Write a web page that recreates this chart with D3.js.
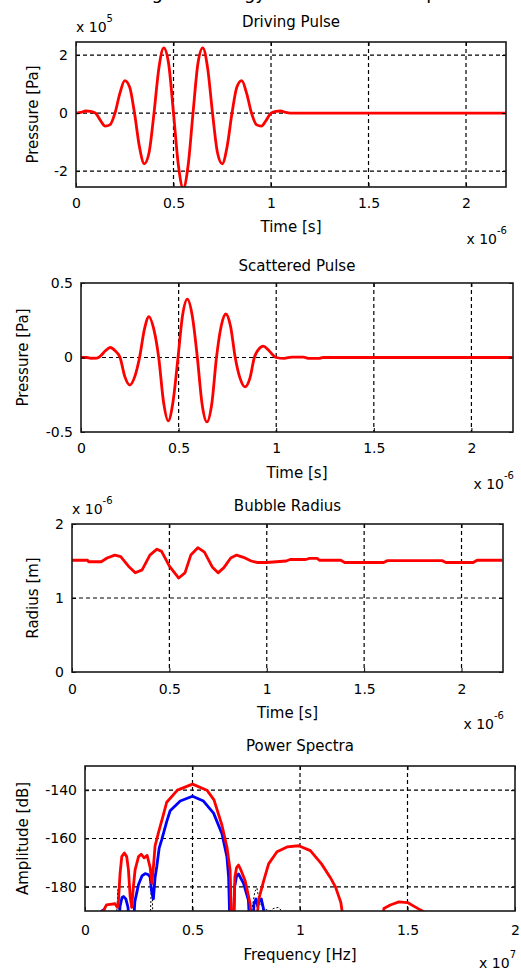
<!DOCTYPE html>
<html>
<head>
<meta charset="utf-8">
<script src="https://cdn.jsdelivr.net/npm/d3@7"></script>
<style>
body { margin: 0; background: #fff; }
text { font-family: "DejaVu Sans", sans-serif; fill: #000; }
</style>
</head>
<body>
<div id="container"></div>
<script>
// time in 1e-6 s, pressure in 1e5 Pa
let drivingPulse = [
  [0, 0], [0.025, 0.02], [0.05, 0.07], [0.075, 0.06], [0.1, 0],
  [0.125, -0.25], [0.15, -0.45], [0.175, -0.4], [0.2, 0],
  [0.225, 0.68], [0.25, 1.12], [0.275, 0.9], [0.3, 0],
  [0.325, -1.15], [0.35, -1.75], [0.375, -1.35], [0.4, 0],
  [0.425, 1.55], [0.45, 2.25], [0.475, 1.7], [0.5, 0],
  [0.525, -1.8], [0.55, -2.6], [0.575, -1.8], [0.6, 0],
  [0.625, 1.7], [0.65, 2.25], [0.675, 1.55], [0.7, 0],
  [0.725, -1.35], [0.75, -1.75], [0.775, -1.15], [0.8, 0],
  [0.825, 0.9], [0.85, 1.12], [0.875, 0.68], [0.9, 0],
  [0.925, -0.4], [0.95, -0.45], [0.975, -0.25], [1.0, 0],
  [1.025, 0.06], [1.05, 0.07], [1.075, 0.02], [1.1, 0], [2.21, 0]
]

// time in 1e-6 s, pressure in Pa
let scatteredPulse = [
  [0, 0], [0.03, 0], [0.05, -0.005], [0.08, -0.004], [0.1, 0.01],
  [0.125, 0.045], [0.15, 0.067], [0.175, 0.045], [0.2, 0],
  [0.225, -0.13], [0.25, -0.185], [0.275, -0.13], [0.3, 0],
  [0.325, 0.19], [0.348, 0.275], [0.372, 0.195], [0.398, 0],
  [0.423, -0.3], [0.447, -0.425], [0.471, -0.3], [0.497, 0],
  [0.52, 0.28], [0.545, 0.392], [0.57, 0.28], [0.596, 0],
  [0.62, -0.31], [0.645, -0.432], [0.67, -0.31], [0.694, 0],
  [0.718, 0.21], [0.742, 0.292], [0.766, 0.21], [0.79, 0],
  [0.815, -0.14], [0.84, -0.197], [0.865, -0.14], [0.888, 0],
  [0.91, 0.055], [0.934, 0.076], [0.96, 0.05], [0.99, 0.008],
  [1.0, 0], [1.04, -0.006], [1.08, 0.003], [1.14, 0.002], [1.17, -0.006],
  [1.22, -0.006], [1.24, 0], [2.21, 0]
]

// time in 1e-6 s, radius in 1e-6 m
let bubbleRadius = [
  [0, 1.51], [0.08, 1.51], [0.085, 1.49], [0.15, 1.49], [0.18, 1.54],
  [0.22, 1.58], [0.25, 1.56], [0.29, 1.43], [0.325, 1.34], [0.36, 1.38],
  [0.4, 1.58], [0.436, 1.66], [0.46, 1.63], [0.5, 1.43], [0.548, 1.27],
  [0.58, 1.34], [0.61, 1.58], [0.646, 1.68], [0.68, 1.62], [0.72, 1.42],
  [0.75, 1.34], [0.78, 1.41], [0.815, 1.54], [0.845, 1.58], [0.88, 1.55],
  [0.92, 1.5], [0.95, 1.48], [1.0, 1.48], [1.05, 1.49], [1.1, 1.5],
  [1.12, 1.52], [1.2, 1.52], [1.22, 1.535], [1.26, 1.535], [1.27, 1.51],
  [1.38, 1.51], [1.4, 1.48], [1.6, 1.48], [1.62, 1.505], [1.9, 1.505],
  [1.92, 1.48], [2.06, 1.48], [2.08, 1.51], [2.21, 1.51]
]

// frequency in 1e7 Hz, amplitude in dB
let spectrumRed = [
  [0, -200], [0.075, -200], [0.085, -190], [0.1, -187.5], [0.14, -187],
  [0.15, -188.5], [0.155, -187], [0.163, -174.5], [0.171, -167.5], [0.183, -166],
  [0.194, -167.5], [0.202, -173], [0.21, -184], [0.217, -188.5], [0.225, -180],
  [0.233, -173], [0.249, -167.5], [0.261, -166.5], [0.275, -168], [0.289, -167],
  [0.303, -172], [0.311, -178.5], [0.318, -172], [0.326, -163], [0.342, -157.5],
  [0.365, -150], [0.38, -145], [0.43, -140], [0.5, -137.5], [0.567, -140],
  [0.6, -144], [0.637, -154.5], [0.66, -163.5], [0.675, -173], [0.683, -200],
  [0.69, -200], [0.697, -176], [0.705, -172], [0.714, -171], [0.725, -173],
  [0.745, -177.5], [0.768, -187], [0.778, -200], [0.795, -200], [0.807, -185.5],
  [0.831, -177.5], [0.854, -170.5], [0.893, -165.5], [0.94, -163.5], [0.994, -163],
  [1.048, -165], [1.1, -170.5], [1.14, -176], [1.165, -180], [1.19, -186.5],
  [1.212, -200], [1.375, -200], [1.39, -189], [1.42, -187.5], [1.46, -186.2],
  [1.5, -186.5], [1.545, -188.8], [1.59, -191], [1.62, -200], [2, -200]
]

let spectrumBlue = [
  [0, -200], [0.07, -200], [0.078, -190], [0.088, -189.5], [0.095, -200],
  [0.155, -200], [0.163, -188], [0.172, -184.5], [0.179, -184], [0.19, -185],
  [0.2, -188.5], [0.21, -200], [0.222, -200], [0.232, -186], [0.249, -179],
  [0.265, -175.5], [0.28, -174.5], [0.295, -175], [0.303, -176], [0.31, -182],
  [0.318, -185], [0.326, -176], [0.334, -171.5], [0.345, -164], [0.357, -160.5],
  [0.38, -153], [0.396, -148.5], [0.443, -144.5], [0.5, -142.5], [0.551, -144.5],
  [0.598, -149.5], [0.637, -158], [0.66, -167.5], [0.668, -176], [0.675, -200],
  [0.69, -200], [0.696, -180], [0.705, -175.5], [0.714, -174.7], [0.737, -178.5],
  [0.76, -185.5], [0.768, -200], [0.78, -200], [0.786, -187], [0.795, -185],
  [0.803, -188], [0.81, -186], [0.82, -185], [0.83, -189], [0.838, -200], [2, -200]
]

let spectrumBlack = [
  [0.148, -190], [0.153, -181], [0.158, -190], [0.2, null],
  [0.305, -190], [0.31, -176], [0.315, -190], [0.5, null],
  [0.775, -190], [0.79, -182], [0.8, -180.5], [0.81, -186], [0.83, -189],
  [0.86, -190], [0.875, -189], [0.9, -188.5], [0.915, -190]
]

let timeTicks = [0, 0.5, 1, 1.5, 2]
let freqTicks = [0, 0.5, 1, 1.5, 2]
let drivingTicks = [-2, 0, 2]
let scatteredTicks = [-0.5, 0, 0.5]
let radiusTicks = [0, 1, 2]
let spectrumTicks = [-180, -160, -140]

let svg = d3.select('#container').append('svg')
  .attr('width', 521)
  .attr('height', 969)

// figure title, cut off by the top edge as in the source image
svg.append('text').attr('x', 163).attr('y', -1).attr('text-anchor', 'end').attr('font-size', 18).text('Scattering')
svg.append('text').attr('x', 266).attr('y', -1).attr('text-anchor', 'end').attr('font-size', 18).text('Energy')
svg.append('text').attr('x', 394).attr('y', -1).attr('font-size', 18).text('Response')

function panel(p) {
  let x = d3.scaleLinear().domain(p.xDomain).range([p.left, p.right])
  let y = d3.scaleLinear().domain(p.yDomain).range([p.bottom, p.top])
  let g = svg.append('g')

  svg.append('clipPath').attr('id', 'clip' + p.id)
    .append('rect')
    .attr('x', p.left).attr('y', p.top)
    .attr('width', p.right - p.left).attr('height', p.bottom - p.top)

  // dashed grid
  g.selectAll('.vgrid')
    .data(p.xTicks.filter(d => d > p.xDomain[0] && d < p.xDomain[1]))
    .enter().append('line')
    .attr('x1', d => x(d)).attr('x2', d => x(d))
    .attr('y1', p.top).attr('y2', p.bottom)
    .attr('stroke', '#000').attr('stroke-width', 1.2)
    .attr('stroke-dasharray', '4,3')
  g.selectAll('.hgrid')
    .data(p.yTicks.filter(d => d > p.yDomain[0] && d < p.yDomain[1]))
    .enter().append('line')
    .attr('x1', p.left).attr('x2', p.right)
    .attr('y1', d => y(d)).attr('y2', d => y(d))
    .attr('stroke', '#000').attr('stroke-width', 1.2)
    .attr('stroke-dasharray', '4,3')

  for (let s of p.series) {
    let line = d3.line()
      .defined(d => d[1] !== null)
      .x(d => x(d[0]))
      .y(d => y(d[1]))
      .curve(s.curve || d3.curveLinear)
    g.append('path')
      .datum(s.data)
      .attr('clip-path', 'url(#clip' + p.id + ')')
      .attr('fill', 'none')
      .attr('stroke', s.color)
      .attr('stroke-width', s.width)
      .attr('stroke-dasharray', s.dash || null)
      .attr('stroke-linejoin', 'round')
      .attr('d', line)
  }

  let fmt = d => String(d)
  let bottom = g.append('g')
    .attr('transform', 'translate(0,' + p.bottom + ')')
    .call(d3.axisBottom(x).tickValues(p.xTicks).tickSize(-4).tickPadding(p.xPad).tickFormat(fmt))
  let top = g.append('g')
    .attr('transform', 'translate(0,' + p.top + ')')
    .call(d3.axisTop(x).tickValues(p.xTicks).tickSize(-4).tickFormat(''))
  let left = g.append('g')
    .attr('transform', 'translate(' + p.left + ',0)')
    .call(d3.axisLeft(y).tickValues(p.yTicks).tickSize(-4).tickPadding(8).tickFormat(fmt))
  let right = g.append('g')
    .attr('transform', 'translate(' + p.right + ',0)')
    .call(d3.axisRight(y).tickValues(p.yTicks).tickSize(-4).tickFormat(''))

  for (let a of [bottom, top, left, right]) {
    a.attr('font-size', 14).attr('font-family', null)
    a.select('.domain').remove()
    a.selectAll('line').attr('stroke', '#000')
  }

  g.append('rect')
    .attr('x', p.left).attr('y', p.top)
    .attr('width', p.right - p.left).attr('height', p.bottom - p.top)
    .attr('fill', 'none').attr('stroke', '#1a1a1a').attr('stroke-width', 1.6)

  g.append('text')
    .attr('x', (p.left + p.right) / 2).attr('y', p.titleY)
    .attr('text-anchor', 'middle').attr('font-size', 15)
    .text(p.title)

  g.append('text')
    .attr('x', (p.left + p.right) / 2).attr('y', p.bottom + p.xlabelGap)
    .attr('text-anchor', 'middle').attr('font-size', 15)
    .text(p.xlabel)

  g.append('text')
    .attr('transform', 'translate(' + p.ylabelX + ',' + (p.top + p.bottom) / 2 + ') rotate(-90)')
    .attr('text-anchor', 'middle').attr('font-size', 15)
    .text(p.ylabel)

  if (p.yExp) {
    let t = g.append('text').attr('x', p.left).attr('y', p.top - 10).attr('font-size', 14)
    t.append('tspan').text('x 10')
    t.append('tspan').attr('dy', -10).attr('font-size', 10).text(p.yExp)
  }
  if (p.xExp) {
    let t = g.append('text').attr('x', p.right + 1).attr('y', p.bottom + 57)
      .attr('text-anchor', 'end').attr('font-size', 14)
    t.append('tspan').text('x 10')
    t.append('tspan').attr('dy', -10).attr('font-size', 10).text(p.xExp)
  }
}

panel({
  id: 1, left: 76, top: 42, right: 506, bottom: 187,
  xDomain: [0, 2.205], yDomain: [-2.55, 2.45],
  xTicks: timeTicks, yTicks: drivingTicks, xPad: 11,
  title: 'Driving Pulse', titleY: 27,
  xlabel: 'Time [s]', xlabelGap: 45,
  ylabel: 'Pressure [Pa]', ylabelX: 38,
  yExp: '5', xExp: '-6',
  series: [{data: drivingPulse, color: '#ff0000', width: 2.8, curve: d3.curveMonotoneX}]
})

panel({
  id: 2, left: 81, top: 283, right: 513, bottom: 432,
  xDomain: [0, 2.213], yDomain: [-0.5, 0.5],
  xTicks: timeTicks, yTicks: scatteredTicks, xPad: 11,
  title: 'Scattered Pulse', titleY: 271,
  xlabel: 'Time [s]', xlabelGap: 46,
  ylabel: 'Pressure [Pa]', ylabelX: 28,
  xExp: '-6',
  series: [{data: scatteredPulse, color: '#ff0000', width: 2.8, curve: d3.curveMonotoneX}]
})

panel({
  id: 3, left: 72, top: 524, right: 503, bottom: 672,
  xDomain: [0, 2.213], yDomain: [0, 2],
  xTicks: timeTicks, yTicks: radiusTicks, xPad: 12,
  title: 'Bubble Radius', titleY: 511,
  xlabel: 'Time [s]', xlabelGap: 46,
  ylabel: 'Radius [m]', ylabelX: 38,
  yExp: '-6', xExp: '-6',
  series: [{data: bubbleRadius, color: '#ff0000', width: 2.8}]
})

panel({
  id: 4, left: 85, top: 766, right: 515, bottom: 911,
  xDomain: [0, 2], yDomain: [-190, -130],
  xTicks: freqTicks, yTicks: spectrumTicks, xPad: 14,
  title: 'Power Spectra', titleY: 751,
  xlabel: 'Frequency [Hz]', xlabelGap: 49,
  ylabel: 'Amplitude [dB]', ylabelX: 28,
  xExp: '7',
  series: [
    {data: spectrumBlack, color: '#000', width: 1, dash: '2,2'},
    {data: spectrumBlue, color: '#0000ff', width: 2.8},
    {data: spectrumRed, color: '#ff0000', width: 2.8}
  ]
})
</script>
</body>
</html>
